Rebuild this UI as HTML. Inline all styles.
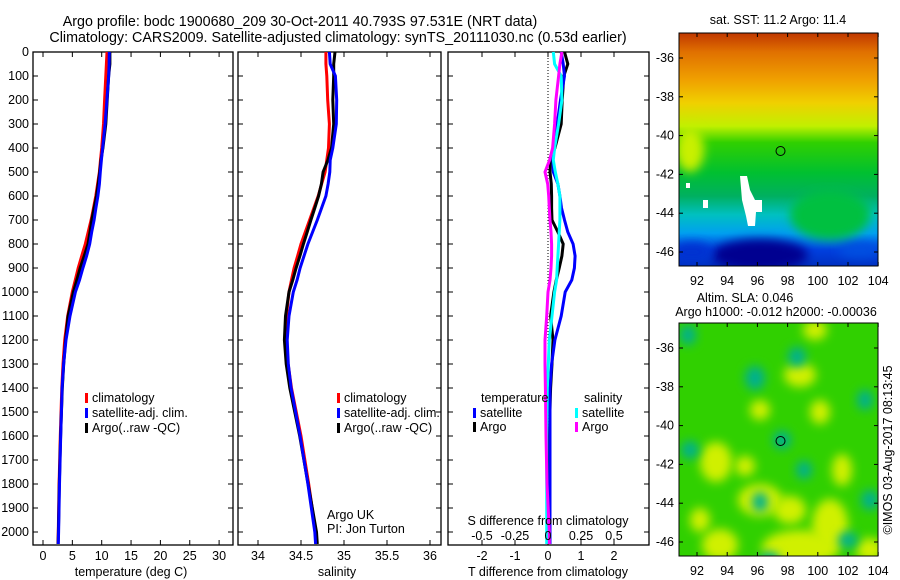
<!DOCTYPE html>
<html><head><meta charset="utf-8"><style>
html,body{margin:0;padding:0;background:#fff;}
svg{display:block;font-family:"Liberation Sans",sans-serif;}
text{font-size:12.5px;fill:#000;}
text.title{font-size:14.3px;}
</style></head><body>
<svg id="chart" width="900" height="580" viewBox="0 0 900 580">
<text class="title" x="300" y="26" text-anchor="middle">Argo profile: bodc 1900680_209 30-Oct-2011 40.793S 97.531E (NRT data)</text>
<text class="title" x="338" y="42" text-anchor="middle">Climatology: CARS2009. Satellite-adjusted climatology: synTS_20111030.nc (0.53d earlier)</text>
<g id="panels"></g>
<g id="maps"></g>
</svg>
<script>
const depths=[0,50,100,200,300,400,450,500,550,600,650,700,750,800,850,900,950,1000,1100,1200,1300,1400,1600,1800,2000,2050];
const tempClim=[10.9,10.8,10.7,10.5,10.3,10.0,9.8,9.6,9.3,9.0,8.6,8.2,7.7,7.2,6.6,6.0,5.5,5.0,4.2,3.7,3.4,3.2,2.95,2.75,2.6,2.55];
const tempSat=[11.3,11.26,11.2,10.88,10.58,10.16,9.95,9.76,9.6,9.36,9.01,8.7,8.3,7.96,7.42,6.8,6.22,5.52,4.6,3.91,3.51,3.26,3.01,2.81,2.66,2.61];
const tempArgo=[11.4,11.4,11.18,10.93,10.7,10.21,9.88,9.66,9.4,9.11,8.71,8.32,8.0,7.66,7.02,6.34,5.75,5.18,4.28,3.85,3.52,3.28,2.99,2.78,2.63,2.58];
const salClim=[34.79,34.79,34.8,34.81,34.83,34.82,34.80,34.78,34.74,34.70,34.65,34.6,34.55,34.5,34.46,34.42,34.39,34.36,34.33,34.33,34.35,34.39,34.5,34.59,34.67,34.68];
const salSat=[34.83,34.84,34.90,34.915,34.91,34.87,34.84,34.835,34.815,34.79,34.74,34.69,34.635,34.58,34.535,34.49,34.455,34.41,34.36,34.34,34.3525,34.385,34.49,34.58,34.66,34.67];
const salArgo=[34.895,34.88,34.88,34.87,34.88,34.855,34.8125,34.7575,34.7375,34.705,34.66,34.615,34.5725,34.5275,34.4875,34.4425,34.405,34.36,34.32,34.3075,34.3275,34.37,34.485,34.5825,34.68,34.69];
const tDiffSat=[0.4,0.46,0.5,0.38,0.28,0.16,0.15,0.16,0.3,0.36,0.41,0.5,0.6,0.76,0.82,0.8,0.72,0.52,0.4,0.21,0.11,0.06,0.06,0.06,0.06,0.06];
const tDiffArgo=[0.5,0.6,0.48,0.43,0.4,0.21,0.08,0.06,0.1,0.11,0.11,0.12,0.3,0.46,0.42,0.34,0.25,0.18,0.08,0.15,0.12,0.08,0.04,0.03,0.03,0.03];
const sDiffSat=[0.04,0.05,0.1,0.105,0.08,0.05,0.04,0.055,0.075,0.09,0.09,0.09,0.085,0.08,0.075,0.07,0.065,0.05,0.03,0.01,0.0025,-0.005,-0.01,-0.01,-0.01,-0.01];
const sDiffArgo=[0.105,0.09,0.08,0.06,0.05,0.035,0.0125,-0.0225,-0.0025,0.005,0.01,0.015,0.0225,0.0275,0.0275,0.0225,0.015,0,-0.01,-0.0225,-0.0225,-0.02,-0.015,-0.0075,0.01,0.01];
const depthTicks=[0,100,200,300,400,500,600,700,800,900,1000,1100,1200,1300,1400,1500,1600,1700,1800,1900,2000];
const tempTicks=[0,5,10,15,20,25,30];
const salTicks=[34,34.5,35,35.5,36];
const salTickLabels=["34","34.5","35","35.5","36"];
const tdTicks=[-2,-1,0,1,2];
const sdTicks=[-0.5,-0.25,0,0.25,0.5];
const sdTickLabels=["-0.5","-0.25","0","0.25","0.5"];
const lonTicks=[92,94,96,98,100,102,104];
const latTicks=[-36,-38,-40,-42,-44,-46];

const NS='http://www.w3.org/2000/svg';
function mk(tag,attrs,parent,txt){const e=document.createElementNS(NS,tag);for(const k in attrs)e.setAttribute(k,attrs[k]);if(txt!==undefined)e.textContent=txt;parent.appendChild(e);return e;}
const yD=d=>52+d*0.24;
const TOP=52,BOT=545;
const panels=document.getElementById('panels');
const P1={l:33,r:233,x:v=>43+5.87*v};
const P2={l:238,r:441,x:v=>258+86*(v-34)};
const P3={l:448,r:649,x:v=>548+33*v,xs:v=>548+132*v};

function frame(p,name){
  const g=mk('g',{},panels);
  
  
  const r=mk('rect',{x:p.l,y:TOP,width:p.r-p.l,height:BOT-TOP,fill:'none',stroke:'#000','stroke-width':1.3},g);
  
  
  depthTicks.forEach(d=>{
    mk('line',{x1:p.l,x2:p.l+5,y1:yD(d),y2:yD(d),stroke:'#000'},g);
    mk('line',{x1:p.r-5,x2:p.r,y1:yD(d),y2:yD(d),stroke:'#000'},g);
  });
  return g;
}
function line(g,xs,xf,color,name){
  const pts=depths.map((d,i)=>xf(xs[i]).toFixed(1)+','+yD(d).toFixed(1)).join(' ');
  const pl=mk('polyline',{points:pts,fill:'none',stroke:color,'stroke-width':3,'stroke-linejoin':'miter'},g);
  
  
}
function xticks(g,ticks,labels,xf,top,bot,ly){
  ticks.forEach((t,i)=>{
    const x=xf(t);
    if(bot)mk('line',{x1:x,x2:x,y1:BOT,y2:BOT-5,stroke:'#000'},g);
    if(top)mk('line',{x1:x,x2:x,y1:TOP,y2:TOP+5,stroke:'#000'},g);
    if(ly){const tx=mk('text',{x:x,y:ly,'text-anchor':'middle'},g,labels[i]);
      
      }
  });
}
function legend(g,x,y,color,label){
  mk('rect',{x:x,y:y-9,width:3,height:10,fill:color},g);
  const t=mk('text',{x:x+7,y:y},g,label);
  
  
}
depthTicks.forEach(d=>{
  const t=mk('text',{x:29,y:yD(d)+4,'text-anchor':'end'},panels,String(d));
  
  
});
let g1=frame(P1,'temperature-panel');
xticks(g1,tempTicks,tempTicks.map(String),P1.x,true,true,560);
line(g1,tempClim,P1.x,'#f00','temp-climatology-line');
line(g1,tempArgo,P1.x,'#000','temp-argo-line');
line(g1,tempSat,P1.x,'#00f','temp-satellite-line');
mk('text',{x:131,y:576,'text-anchor':'middle'},g1,'temperature (deg C)');
legend(g1,85,402,'#f00','climatology');
legend(g1,85,417,'#00f','satellite-adj. clim.');
legend(g1,85,432,'#000','Argo(..raw -QC)');
let g2=frame(P2,'salinity-panel');
xticks(g2,salTicks,salTickLabels,P2.x,true,true,560);
line(g2,salClim,P2.x,'#f00','sal-climatology-line');
line(g2,salArgo,P2.x,'#000','sal-argo-line');
line(g2,salSat,P2.x,'#00f','sal-satellite-line');
mk('text',{x:337,y:576,'text-anchor':'middle'},g2,'salinity');
legend(g2,337,402,'#f00','climatology');
legend(g2,337,417,'#00f','satellite-adj. clim.');
legend(g2,337,432,'#000','Argo(..raw -QC)');
mk('text',{x:327,y:519},g2,'Argo UK');
mk('text',{x:327,y:533},g2,'PI: Jon Turton');
let g3=frame(P3,'difference-panel');
xticks(g3,tdTicks,tdTicks.map(String),P3.x,true,true,560);
mk('line',{x1:548,x2:548,y1:TOP,y2:BOT,stroke:'#000','stroke-dasharray':'1,2'},g3);
line(g3,tDiffArgo,P3.x,'#000','tdiff-argo-line');
line(g3,tDiffSat,P3.x,'#00f','tdiff-satellite-line');
line(g3,sDiffSat,P3.xs,'#0ff','sdiff-satellite-line');
line(g3,sDiffArgo,P3.xs,'#f0f','sdiff-argo-line');
sdTicks.forEach((t,i)=>{const tx=mk('text',{x:P3.xs(t),y:540,'text-anchor':'middle'},g3,sdTickLabels[i]);
  
  });
mk('text',{x:548,y:525,'text-anchor':'middle'},g3,'S difference from climatology');
mk('text',{x:548,y:576,'text-anchor':'middle'},g3,'T difference from climatology');
mk('text',{x:481,y:402},g3,'temperature');
mk('text',{x:584,y:402},g3,'salinity');
legend(g3,473,417,'#00f','satellite');
legend(g3,473,431,'#000','Argo');
legend(g3,575,417,'#0ff','satellite');
legend(g3,575,431,'#f0f','Argo');
</script>
<script>
(function(){
const NS='http://www.w3.org/2000/svg';
const maps=document.getElementById('maps');
function mk(tag,attrs,parent,txt){const e=document.createElementNS(NS,tag);for(const k in attrs)e.setAttribute(k,attrs[k]);if(txt!==undefined)e.textContent=txt;parent.appendChild(e);return e;}
const L=679,R=878,lonX=v=>697+15.1*(v-92),latY=(top,v)=>top+25+19.4*(-36-v);
const defs=mk('defs',{},maps);
defs.innerHTML='<linearGradient id="sst" x1="0" y1="0" x2="0" y2="1">'+
'<stop offset="0" stop-color="#c03800"/><stop offset="0.08" stop-color="#e07000"/><stop offset="0.2" stop-color="#f0a000"/>'+
'<stop offset="0.3" stop-color="#f0d000"/><stop offset="0.4" stop-color="#c0f000"/><stop offset="0.47" stop-color="#30d000"/>'+
'<stop offset="0.6" stop-color="#00c030"/><stop offset="0.7" stop-color="#00b060"/><stop offset="0.78" stop-color="#00c0c0"/>'+
'<stop offset="0.86" stop-color="#00a0f0"/><stop offset="0.93" stop-color="#0040e0"/><stop offset="1" stop-color="#0030c0"/></linearGradient>'+
'<filter id="bl" x="-50%" y="-50%" width="200%" height="200%"><feGaussianBlur stdDeviation="5"/></filter>'+
'<clipPath id="c1"><rect x="679" y="33" width="199" height="233"/></clipPath>'+
'<clipPath id="c2"><rect x="679" y="323" width="199" height="233"/></clipPath>';
function axes(top,name){
  const g=mk('g',{},maps);
  
  
  mk('rect',{x:L,y:top,width:R-L,height:233,fill:'none',stroke:'#000'},g);
  lonTicks.forEach(v=>{const x=lonX(v);mk('line',{x1:x,x2:x,y1:top,y2:top+4,stroke:'#000'},g);mk('line',{x1:x,x2:x,y1:top+233,y2:top+229,stroke:'#000'},g);
    mk('text',{x:x,y:top+252,'text-anchor':'middle'},g,String(v));});
  latTicks.forEach(v=>{const y=latY(top,v);mk('line',{x1:L,x2:L+4,y1:y,y2:y,stroke:'#000'},g);mk('line',{x1:R-4,x2:R,y1:y,y2:y,stroke:'#000'},g);
    mk('text',{x:674,y:y+4,'text-anchor':'end'},g,String(v));});
  const c=mk('circle',{cx:lonX(97.531),cy:latY(top,-40.793),r:4.5,fill:'none',stroke:'#000'},g);
  
  
}
const m1=mk('g',{'clip-path':'url(#c1)'},maps);


mk('rect',{x:679,y:33,width:199,height:233,fill:'url(#sst)'},m1);
mk('ellipse',{cx:690,cy:150,rx:14,ry:22,fill:'#c8f000',filter:'url(#bl)'},m1);
mk('ellipse',{cx:760,cy:255,rx:48,ry:16,fill:'#000090',filter:'url(#bl)'},m1);
mk('ellipse',{cx:692,cy:252,rx:20,ry:10,fill:'#0030d0',filter:'url(#bl)'},m1);
mk('ellipse',{cx:860,cy:250,rx:22,ry:8,fill:'#0050e0',filter:'url(#bl)'},m1);
mk('ellipse',{cx:830,cy:215,rx:40,ry:25,fill:'#00c040',filter:'url(#bl)'},m1);
mk('polygon',{points:'740,176 747,176 750,190 755,200 762,200 762,212 756,212 755,226 748,226 746,216 742,200',fill:'#fff'},m1);
mk('rect',{x:703,y:200,width:5,height:8,fill:'#fff'},m1);
mk('rect',{x:686,y:183,width:4,height:5,fill:'#fff'},m1);
axes(33,'sst-map');
mk('text',{x:778,y:24,'text-anchor':'middle'},maps,'sat. SST: 11.2 Argo: 11.4');
const m2=mk('g',{'clip-path':'url(#c2)'},maps);


mk('rect',{x:679,y:323,width:199,height:233,fill:'#30d000'},m2);
const yel=[[716,462,16,20],[760,500,22,16],[800,548,38,18],[720,545,18,16],[830,525,18,26],[815,330,12,10],[800,375,16,12],[760,410,10,10],[700,520,10,12],[870,550,14,12],[790,510,16,14],[842,470,10,16],[820,412,10,12],[745,466,10,10]];
yel.forEach(e=>mk('ellipse',{cx:e[0],cy:e[1],rx:e[2],ry:e[3],fill:'#d0f000',filter:'url(#bl)'},m2));
const teal=[[755,378,10,12],[797,357,9,10],[865,400,8,10],[760,502,8,10],[782,440,9,9],[804,470,8,9],[770,560,10,8],[848,540,10,8],[870,500,9,10],[690,450,9,9],[688,335,8,10]];
teal.forEach(e=>mk('ellipse',{cx:e[0],cy:e[1],rx:e[2],ry:e[3],fill:'#00b090',filter:'url(#bl)'},m2));
axes(323,'sla-map');
mk('text',{x:745,y:302,'text-anchor':'middle'},maps,'Altim. SLA: 0.046');
mk('text',{x:776,y:316,'text-anchor':'middle'},maps,'Argo h1000: -0.012 h2000: -0.00036');
mk('text',{x:0,y:0,transform:'translate(892,450) rotate(-90)','text-anchor':'middle'},maps,'©IMOS 03-Aug-2017 08:13:45');
})();
</script>
</body></html>
